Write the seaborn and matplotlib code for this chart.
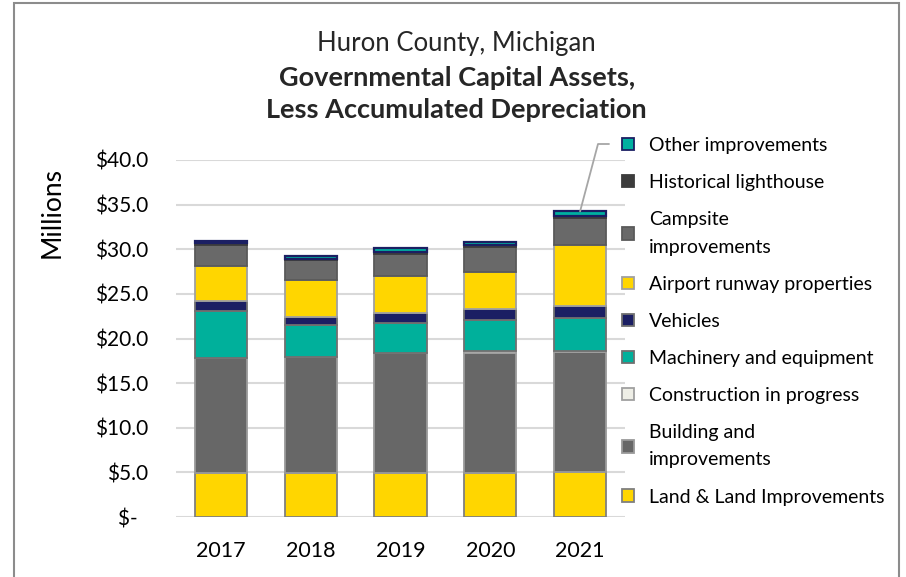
import matplotlib
matplotlib.use('Agg')

import numpy as np
import pandas as pd
import matplotlib.pyplot as plt
import seaborn as sns
from matplotlib.patches import Patch, Rectangle
from matplotlib.lines import Line2D
from matplotlib.ticker import FuncFormatter

# data (millions of dollars)
years = ['2017', '2018', '2019', '2020', '2021']
land = [4.9, 4.9, 4.95, 4.95, 5.0]
building = [12.9, 13.0, 13.4, 13.4, 13.5]
construction = [0.0, 0.0, 0.0, 0.25, 0.15]
machinery = [5.3, 3.6, 3.35, 3.45, 3.6]
vehicles = [1.1, 0.95, 1.2, 1.3, 1.4]
airport = [3.9, 4.05, 4.1, 4.05, 6.8]
campsite = [2.4, 2.3, 2.5, 2.85, 3.1]
lighthouse = [0.15, 0.15, 0.2, 0.2, 0.2]
other = [0.25, 0.3, 0.4, 0.4, 0.5]

series = [
    ('Land & Land Improvements', land, '#FFD600', '#7F7F7F'),
    ('Building and\nimprovements', building, '#676767', '#9A9A9A'),
    ('Construction in progress', construction, '#EEEEE6', '#A0A0A0'),
    ('Machinery and equipment', machinery, '#00B09B', '#707070'),
    ('Vehicles', vehicles, '#1B1F63', '#707070'),
    ('Airport runway properties', airport, '#FFD600', '#A0A0A0'),
    ('Campsite\nimprovements', campsite, '#696969', '#5A5A5A'),
    ('Historical lighthouse', lighthouse, '#3C3C3C', '#3C3C3C'),
    ('Other improvements', other, '#00B0A0', '#1B1F63'),
]

sns.set_theme(style='white')
plt.rcParams['font.family'] = ['Lato', 'DejaVu Sans']

fig = plt.figure(figsize=(9.06, 5.77), dpi=100)
ax = fig.add_axes([176 / 906, 60 / 577, 449 / 906, 357 / 577])

bottom = np.zeros(len(years))
for name, vals, color, edge in series:
    df = pd.DataFrame({'year': years, 'value': vals})
    sns.barplot(data=df, x='year', y='value', color=color, edgecolor=edge,
                linewidth=1.6 if name == 'Other improvements' else 1.3,
                width=0.58, bottom=bottom, errorbar=None,
                saturation=1, ax=ax, zorder=3)
    bottom = bottom + np.array(vals)

ax.set_ylim(0, 40)
ax.set_xlim(-0.5, 4.5)
ax.set_yticks(np.arange(0, 41, 5))
ax.yaxis.set_major_formatter(FuncFormatter(lambda v, p: '$-  ' if v == 0 else f'${v:.1f}'))
ax.grid(axis='y', color='#D9D9D9', lw=1.5, zorder=0)
ax.set_axisbelow(True)
for s in ax.spines.values():
    s.set_visible(False)
ax.tick_params(axis='y', length=0, pad=20, labelsize=15, labelcolor='black')
ax.tick_params(axis='x', length=0, pad=17, labelsize=15.5, labelcolor='black')
ax.set_xlabel('')
ax.set_ylabel('Millions', fontsize=19, color='black')
ax.yaxis.set_label_coords(-0.247, 0.853)

# titles
fig.text(0.504, 1 - 43 / 577, 'Huron County, Michigan', ha='center', va='center', fontsize=18.5)
fig.text(0.504, 1 - 78 / 577, 'Governmental Capital Assets,', ha='center', va='center',
         fontsize=19.5, fontweight='bold')
fig.text(0.504, 1 - 110 / 577, 'Less Accumulated Depreciation', ha='center', va='center',
         fontsize=19.5, fontweight='bold')

# legend, top entry first
handles = [Patch(facecolor=c, edgecolor=e, lw=1.3, label=n) for n, v, c, e in series][::-1]
leg = fig.legend(handles=handles, loc='upper left', bbox_to_anchor=(622 / 906, 1 - 137 / 577),
                 frameon=False, fontsize=14, labelspacing=1.03, handlelength=0.62,
                 handleheight=0.62, handletextpad=0.75, borderpad=0, borderaxespad=0,
                 labelcolor='black')
for t in leg.get_texts():
    t.set_linespacing(1.76)

# leader line from 2021 top to legend
x0, y0 = fig.transFigure.inverted().transform(ax.transData.transform((4, bottom[4])))
fig.add_artist(Line2D([x0, 598 / 906, 609 / 906],
                      [y0, 1 - 144 / 577, 1 - 144 / 577], color='#A6A6A6', lw=1.3))

# outer frame
fig.add_artist(Rectangle((14 / 906, -0.05), 885 / 906, 1.05 - 3 / 577,
                         transform=fig.transFigure, fill=False, edgecolor='#8C8C8C', lw=1.5))

plt.savefig('out.png', dpi=100)
plt.close()
